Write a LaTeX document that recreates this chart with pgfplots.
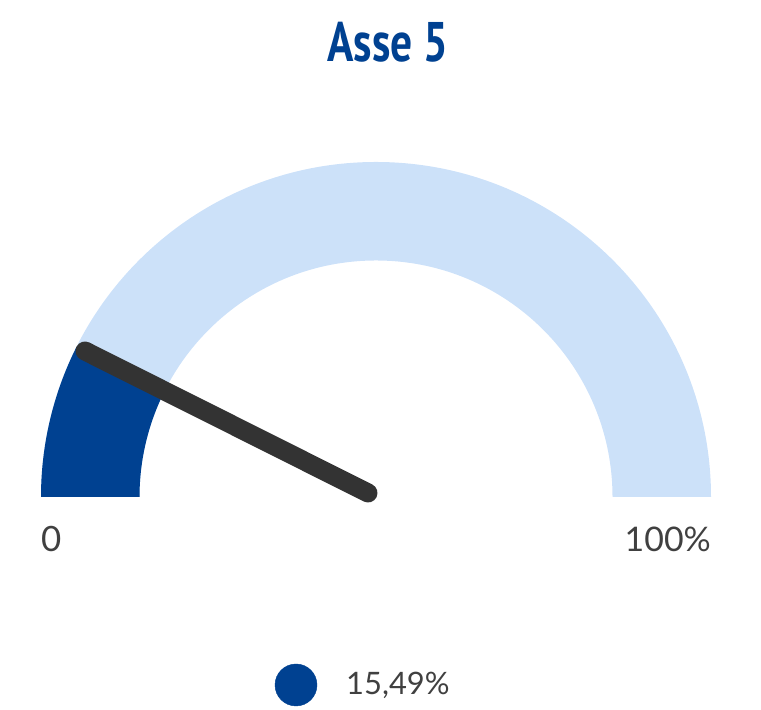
\documentclass[border=0pt]{standalone}
\usepackage{pgfplots}
\pgfplotsset{compat=1.18}
\usepackage{fontspec}
\setmainfont{Lato}
\newfontfamily\titlefont[FakeStretch=0.78]{PT Sans}
\definecolor{gaugeblue}{HTML}{004191}
\definecolor{gaugelight}{HTML}{CCE1F9}
\definecolor{needlecol}{HTML}{333333}
\definecolor{txt}{HTML}{404040}
% gauge value as drawn (fraction of the half circle, in percent)
\def\gaugeval{14.8}
\pgfmathsetmacro\valangle{180-180*\gaugeval/100}
\begin{document}
\begin{tikzpicture}
\begin{axis}[
  width=761bp, height=710bp, scale only axis,
  xmin=0, xmax=761, ymin=0, ymax=710,
  hide axis, clip=false,
]
\path (axis cs:0,0) rectangle (axis cs:761,710);
% background band
\fill[gaugelight] (axis cs:41,213) arc[start angle=180,end angle=0,radius=335bp]
   -- (axis cs:612.5,213) arc[start angle=0,end angle=180,radius=236.5bp] -- cycle;
% value band
\fill[gaugeblue] (axis cs:376,213) ++(\valangle:236.5bp)
   arc[start angle=\valangle,end angle=180,radius=236.5bp]
   -- ++(-98.5bp,0) arc[start angle=180,end angle=\valangle,radius=335bp] -- cycle;
% needle
\addplot[needlecol, line width=19bp, line cap=round] coordinates {(368,217) (85,359)};
% legend marker
\addplot[only marks, mark=*, mark size=21bp, gaugeblue, mark options={fill=gaugeblue, draw=gaugeblue}] coordinates {(296,25)};
\node[anchor=base, inner sep=0pt, text=gaugeblue, font=\titlefont\bfseries\fontsize{56}{60}\selectfont] at (axis cs:388,648) {Asse 5};
\node[anchor=base west, inner sep=0pt, text=txt, font=\fontsize{35}{40}\selectfont] at (axis cs:41,158) {0};
\node[anchor=base east, inner sep=0pt, text=txt, font=\fontsize{34}{40}\selectfont] at (axis cs:711,158) {100\%};
\node[anchor=base west, inner sep=0pt, text=txt, font=\fontsize{31}{36}\selectfont] at (axis cs:346,15) {15,49\%};
\end{axis}
\end{tikzpicture}
\end{document}
